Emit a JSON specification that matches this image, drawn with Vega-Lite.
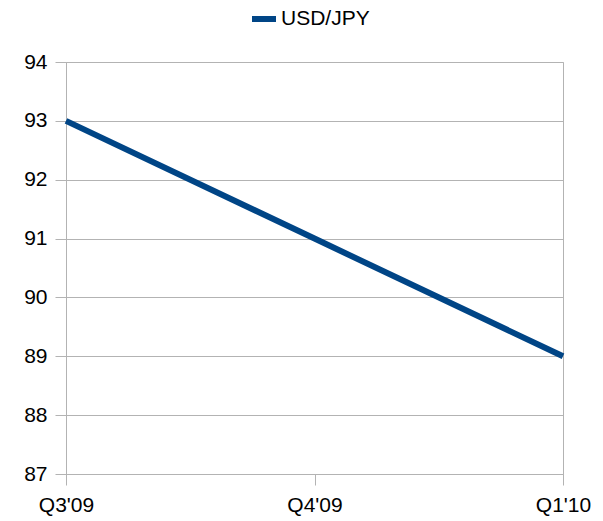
{
  "$schema": "https://vega.github.io/schema/vega-lite/v6.json",
  "width": 497,
  "height": 412,
  "autosize": "none",
  "padding": {"left": 66, "top": 62, "right": 40, "bottom": 47},
  "background": "white",
  "config": {
    "font": "Liberation Sans",
    "view": {"stroke": "#b3b3b3", "strokeWidth": 1}
  },
  "data": {
    "values": [
      {"quarter": "Q3'09", "value": 93, "series": "USD/JPY"},
      {"quarter": "Q4'09", "value": 91, "series": "USD/JPY"},
      {"quarter": "Q1'10", "value": 89, "series": "USD/JPY"}
    ]
  },
  "mark": {"type": "line", "strokeWidth": 6, "strokeCap": "butt"},
  "encoding": {
    "x": {
      "field": "quarter",
      "type": "ordinal",
      "sort": null,
      "scale": {"type": "point", "padding": 0},
      "axis": {
        "title": null,
        "labelAngle": 0,
        "labelFontSize": 21,
        "labelColor": "#000000",
        "labelPadding": 9,
        "tickSize": 11,
        "tickColor": "#b3b3b3",
        "domainColor": "#b3b3b3",
        "grid": false
      }
    },
    "y": {
      "field": "value",
      "type": "quantitative",
      "scale": {"domain": [87, 94], "zero": false, "nice": false},
      "axis": {
        "title": null,
        "values": [87, 88, 89, 90, 91, 92, 93, 94],
        "labelFontSize": 21,
        "labelColor": "#000000",
        "labelPadding": 8,
        "tickSize": 11,
        "tickColor": "#b3b3b3",
        "domainColor": "#b3b3b3",
        "gridColor": "#b3b3b3",
        "grid": true
      }
    },
    "color": {
      "field": "series",
      "type": "nominal",
      "scale": {"range": ["#004586"]},
      "legend": {
        "title": null,
        "orient": "none",
        "legendX": 183,
        "legendY": -58,
        "symbolType": "stroke",
        "symbolStrokeWidth": 6,
        "symbolSize": 576,
        "labelFontSize": 21,
        "labelColor": "#000000",
        "labelOffset": 2
      }
    }
  }
}
